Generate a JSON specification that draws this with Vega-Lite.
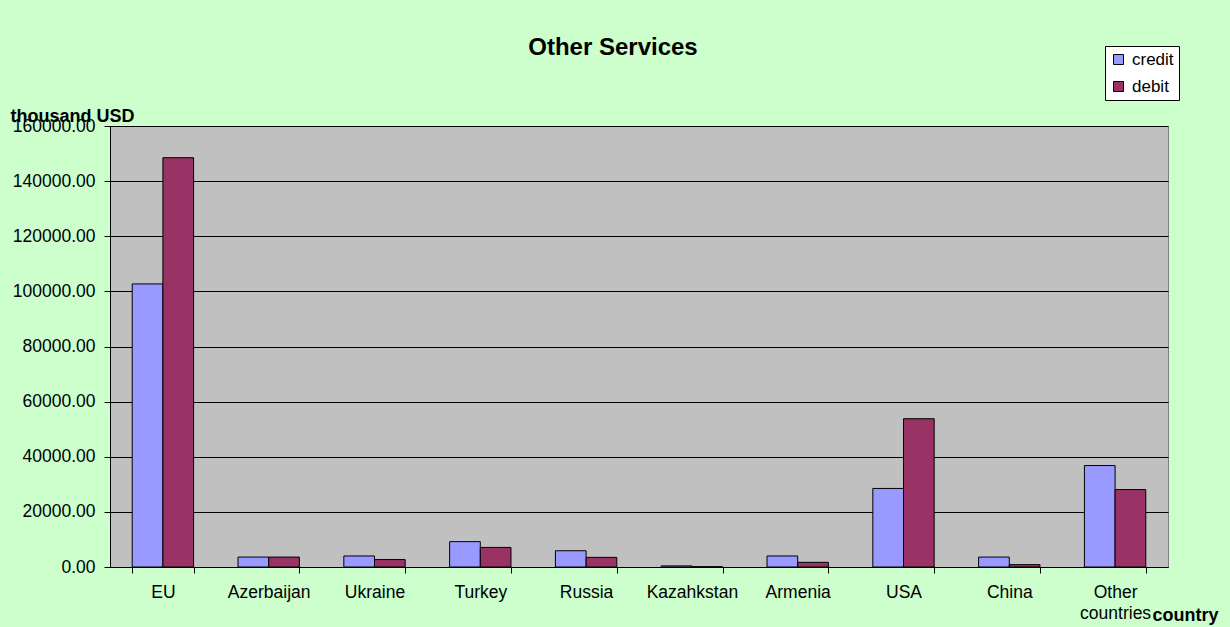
{
  "$schema": "https://vega.github.io/schema/vega-lite/v6.json",
  "autosize": {"type": "none"},
  "width": 1058,
  "height": 441,
  "padding": {"left": 110, "top": 126, "right": 62, "bottom": 60},
  "background": "#CCFFCC",
  "title": {
    "text": "Other Services",
    "font": "Liberation Sans",
    "fontSize": 24,
    "fontWeight": "bold",
    "color": "black",
    "anchor": "middle",
    "frame": "group",
    "dx": -26,
    "dy": 53,
    "baseline": "alphabetic",
    "offset": 20
  },
  "data": {
    "values": [
      {"country": "EU", "type": "credit", "value": 102700},
      {"country": "EU", "type": "debit", "value": 148500},
      {"country": "Azerbaijan", "type": "credit", "value": 3600},
      {"country": "Azerbaijan", "type": "debit", "value": 3600},
      {"country": "Ukraine", "type": "credit", "value": 4000},
      {"country": "Ukraine", "type": "debit", "value": 2700},
      {"country": "Turkey", "type": "credit", "value": 9200},
      {"country": "Turkey", "type": "debit", "value": 7100},
      {"country": "Russia", "type": "credit", "value": 5900},
      {"country": "Russia", "type": "debit", "value": 3500},
      {"country": "Kazahkstan", "type": "credit", "value": 400},
      {"country": "Kazahkstan", "type": "debit", "value": 100},
      {"country": "Armenia", "type": "credit", "value": 4000},
      {"country": "Armenia", "type": "debit", "value": 1700},
      {"country": "USA", "type": "credit", "value": 28500},
      {"country": "USA", "type": "debit", "value": 53800},
      {"country": "China", "type": "credit", "value": 3600},
      {"country": "China", "type": "debit", "value": 850},
      {"country": "Other countries", "type": "credit", "value": 36800},
      {"country": "Other countries", "type": "debit", "value": 28100}
    ]
  },
  "mark": {"type": "bar", "stroke": "black", "strokeWidth": 1},
  "encoding": {
    "x": {
      "field": "country",
      "type": "nominal",
      "sort": null,
      "scale": {"paddingInner": 0.42, "paddingOuter": 0.21},
      "axis": {
        "title": "country",
        "titleFont": "Liberation Sans",
        "titleFontSize": 18,
        "titleFontWeight": "bold",
        "titleColor": "black",
        "titleAlign": "left",
        "titleAnchor": null,
        "titleBaseline": "alphabetic",
        "titleX": 1042,
        "titleY": 53,
        "labelAngle": 0,
        "labelFont": "Liberation Sans",
        "labelFontSize": 17.5,
        "labelColor": "black",
        "labelPadding": 10,
        "labelLineHeight": 21,
        "labelExpr": "datum.value == 'Other countries' ? ['Other', 'countries'] : datum.label",
        "tickBand": "extent",
        "tickSize": 6,
        "tickColor": "black",
        "domainColor": "black",
        "grid": false
      }
    },
    "xOffset": {"field": "type", "type": "nominal", "sort": ["credit", "debit"]},
    "y": {
      "field": "value",
      "type": "quantitative",
      "scale": {"domain": [0, 160000], "nice": false},
      "axis": {
        "values": [0, 20000, 40000, 60000, 80000, 100000, 120000, 140000, 160000],
        "format": ".2f",
        "title": "thousand USD",
        "titleFont": "Liberation Sans",
        "titleFontSize": 18,
        "titleFontWeight": "bold",
        "titleColor": "black",
        "titleAngle": 0,
        "titleAlign": "left",
        "titleAnchor": null,
        "titleBaseline": "alphabetic",
        "titleX": -100,
        "titleY": -5,
        "labelFont": "Liberation Sans",
        "labelFontSize": 17.5,
        "labelColor": "black",
        "labelPadding": 9,
        "tickSize": 6,
        "tickColor": "black",
        "domainColor": "black",
        "grid": true,
        "gridColor": "black",
        "gridOpacity": 1,
        "gridWidth": 1
      }
    },
    "color": {
      "field": "type",
      "type": "nominal",
      "scale": {"domain": ["credit", "debit"], "range": ["#9999FF", "#993366"]},
      "legend": {
        "title": null,
        "orient": "none",
        "legendX": 995,
        "legendY": -80,
        "symbolType": "square",
        "symbolSize": 100,
        "symbolStrokeColor": "black",
        "symbolStrokeWidth": 1,
        "symbolOpacity": 1,
        "labelFont": "Liberation Sans",
        "labelFontSize": 17,
        "labelColor": "black",
        "labelOffset": 5,
        "rowPadding": 9,
        "padding": 5,
        "strokeColor": "black",
        "fillColor": "white"
      }
    }
  },
  "config": {
    "view": {"fill": "#C0C0C0", "stroke": "#808080", "strokeWidth": 1}
  }
}
